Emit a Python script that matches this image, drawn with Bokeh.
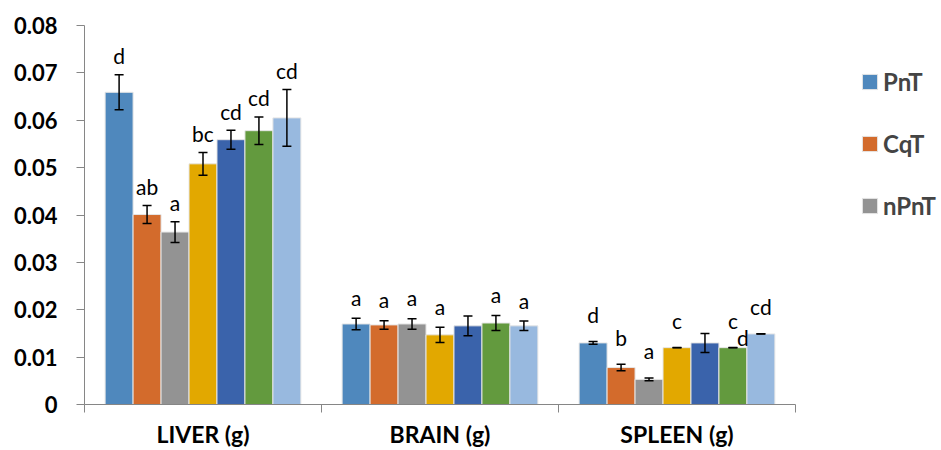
import numpy as np
from bokeh.plotting import figure
from bokeh.models import (ColumnDataSource, Range1d, FixedTicker, Whisker, TeeHead,
                          Legend, LegendItem)
from bokeh.core.properties import value
from bokeh.embed import file_html
from bokeh.resources import INLINE

# ---------------- data ----------------
categories = ["LIVER (g)", "BRAIN (g)", "SPLEEN (g)"]

legend_names = ["PnT", "CqT", "nPnT"]

pnt = [0.0659, 0.0170, 0.0130]
pnt_err = [0.0037, 0.0012, 0.0003]
pnt_lbl = ["d", "a", "d"]

cqt = [0.0401, 0.0168, 0.0078]
cqt_err = [0.0019, 0.0009, 0.0007]
cqt_lbl = ["ab", "a", "b"]

npnt = [0.0364, 0.0170, 0.0053]
npnt_err = [0.0022, 0.0011, 0.0003]
npnt_lbl = ["a", "a", "a"]

s4 = [0.0508, 0.0147, 0.0120]
s4_err = [0.0024, 0.0016, 0.00003]
s4_lbl = ["bc", "a", "c"]

s5 = [0.0559, 0.0166, 0.0130]
s5_err = [0.0020, 0.0021, 0.0020]
s5_lbl = ["cd", "", ""]

s6 = [0.0578, 0.0172, 0.0120]
s6_err = [0.0029, 0.0016, 0.00003]
s6_lbl = ["cd", "a", "c"]

s7 = [0.0605, 0.0166, 0.0149]
s7_err = [0.0060, 0.0010, 0.00003]
s7_lbl = ["cd", "a", "cd"]

# stray letter in the SPLEEN group (next to series 6)
stray_text = ["d"]
stray_cat = [2]
stray_series = [5]

y_ticks = [0, 0.01, 0.02, 0.03, 0.04, 0.05, 0.06, 0.07, 0.08]
y_tick_labels = ["0", "0.01", "0.02", "0.03", "0.04", "0.05", "0.06", "0.07", "0.08"]

# ---------------- styles / layout ----------------
colors = ["#4F88BD", "#D36B2C", "#939393", "#E2A800", "#3A63AB", "#639A3E", "#98B9DF"]
label_gap_px = [9, 11, 17]   # pixels between error cap and letter, per category
BASELINE_FIX_PX = 10         # svg text sits this much below its anchor
FONT = "Lato"
AXIS_COLOR = "#868686"
W, H = 941, 450
LEFT, TOP, BOTTOM = 84, 25, 46
AXIS_END_PX = 795  # where the category axis ends
Y_MAX = 0.08

series_vals = [pnt, cqt, npnt, s4, s5, s6, s7]
series_errs = [pnt_err, cqt_err, npnt_err, s4_err, s5_err, s6_err, s7_err]
series_lbls = [pnt_lbl, cqt_lbl, npnt_lbl, s4_lbl, s5_lbl, s6_lbl, s7_lbl]

n_series = len(series_vals)
n_cat = len(categories)
bar_w = 0.118
px_to_y = Y_MAX / (H - TOP - BOTTOM)

# frame spans to the right edge (legend lives inside); axis limited to categories
x_end = n_cat * (W - LEFT) / (AXIS_END_PX - LEFT)

p = figure(width=W, height=H, output_backend="svg", toolbar_location=None,
           x_range=Range1d(0, x_end), y_range=Range1d(0, Y_MAX))
p.min_border_left = LEFT
p.min_border_top = TOP
p.min_border_right = 0
p.min_border_bottom = BOTTOM
p.xgrid.visible = False
p.ygrid.visible = False
p.outline_line_color = None
p.background_fill_color = "white"
p.border_fill_color = "white"

renderers = []
cat_idx = np.arange(n_cat)
lab_x, lab_y, lab_t = [], [], []
for j in range(n_series):
    xs = cat_idx + 0.5 + (j - (n_series - 1) / 2) * bar_w
    vals = np.array(series_vals[j])
    errs = np.array(series_errs[j])
    src = ColumnDataSource(dict(x=xs, top=vals, up=vals + errs, lo=vals - errs))
    r = p.vbar(x="x", top="top", width=bar_w, source=src, fill_color=colors[j],
               line_color="#E6E6E6", line_width=1)
    renderers.append(r)
    w = Whisker(source=src, base="x", upper="up", lower="lo", dimension="height",
                line_color="black", line_width=1.5, level="overlay",
                upper_head=TeeHead(size=9, line_color="black", line_width=1.5),
                lower_head=TeeHead(size=9, line_color="black", line_width=1.5))
    p.add_layout(w)
    for c in cat_idx:
        lab_x.append(xs[c])
        lab_y.append(vals[c] + errs[c] + (label_gap_px[c] + BASELINE_FIX_PX) * px_to_y)
        lab_t.append(series_lbls[j][c])

# stray label
for c, s, t in zip(stray_cat, stray_series, stray_text):
    lab_x.append(c + 0.5 + (s - (n_series - 1) / 2) * bar_w + 10 * n_cat / (AXIS_END_PX - LEFT))
    lab_y.append(series_vals[s][c] + BASELINE_FIX_PX * px_to_y)
    lab_t.append(t)

lsrc = ColumnDataSource(dict(x=lab_x, y=lab_y, t=lab_t))
p.text(x="x", y="y", text="t", source=lsrc, text_align="center",
       text_baseline="alphabetic", text_font=value(FONT),
       text_font_size="21px", text_color="black")

# axes
xa = p.xaxis[0]
xa.bounds = (0, n_cat)
xa.ticker = FixedTicker(ticks=list(cat_idx + 0.5),
                        minor_ticks=list(range(n_cat + 1)))
xa.major_label_overrides = {float(c + 0.5): categories[c] for c in cat_idx}
xa.major_tick_line_color = None
xa.major_tick_out = 0
xa.major_tick_in = 0
xa.minor_tick_line_color = AXIS_COLOR
xa.minor_tick_out = 8
xa.minor_tick_in = 0
xa.axis_line_color = AXIS_COLOR
xa.major_label_text_font = FONT
xa.major_label_text_font_style = "bold"
xa.major_label_text_font_size = "23px"
xa.major_label_text_color = "black"
xa.major_label_standoff = 7

ya = p.yaxis[0]
ya.ticker = FixedTicker(ticks=y_ticks)
ya.major_label_overrides = {t: l for t, l in zip(y_ticks, y_tick_labels)}
ya.axis_line_color = AXIS_COLOR
ya.major_tick_line_color = AXIS_COLOR
ya.major_tick_out = 8
ya.major_tick_in = 0
ya.minor_tick_line_color = None
ya.major_label_text_font = FONT
ya.major_label_text_font_style = "bold"
ya.major_label_text_font_size = "22px"
ya.major_label_text_color = "black"
ya.major_label_standoff = 19

legend = Legend(items=[LegendItem(label=legend_names[i], renderers=[renderers[i]])
                       for i in range(len(legend_names))],
                location=(776, 184), orientation="vertical",
                glyph_width=19, glyph_height=19, label_standoff=4,
                label_text_font=FONT, label_text_font_style="bold",
                label_text_font_size="24px", label_height=15,
                spacing=33, padding=0, margin=0,
                border_line_color=None, background_fill_alpha=0)
p.add_layout(legend)

open("out.html", "w").write(file_html(p, INLINE))
